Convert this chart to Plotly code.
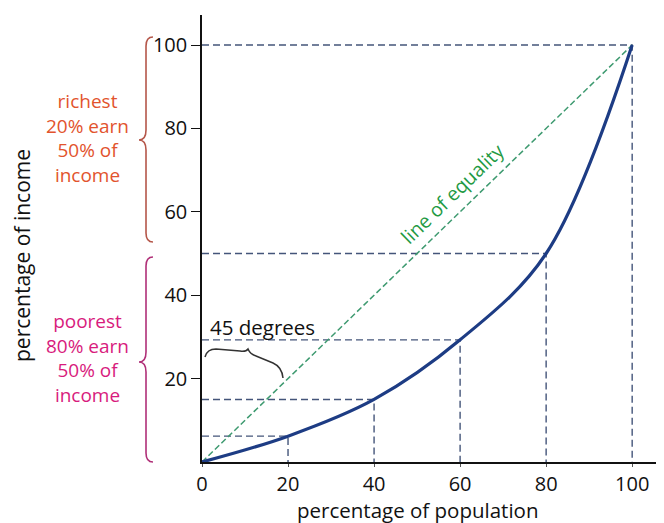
import plotly.graph_objects as go

# ---- data ----
population = [0, 20, 40, 60, 80, 100]
income = [0, 6.2, 15.0, 29.3, 50.0, 100]
equality_x = [0, 100]
equality_y = [0, 100]
tick_vals = [0, 20, 40, 60, 80, 100]
tick_text = ["0", "20", "40", "60", "80", "100"]
y_tick_vals = [20, 40, 60, 80, 100]
y_tick_text = ["20", "40", "60", "80", "100"]
rich_lines = ["richest", "20% earn", "50% of", "income"]
poor_lines = ["poorest", "80% earn", "50% of", "income"]

# the page body adds an 8px offset, so the figure is slightly smaller
OFF = 8
W, H = 664 - OFF, 523 - OFF
PLOT_L, PLOT_R, PLOT_T, PLOT_B = 202, 664, 15, 462   # in reference pixels
ML = PLOT_L - OFF
MR = 664 - PLOT_R
MT = PLOT_T - OFF
MB = (523 - OFF) - (PLOT_B - OFF)
PW = PLOT_R - PLOT_L
PH = PLOT_B - PLOT_T
XR = [0, 107.4]
YR = [0, 107.2]


def px(xp, yp):
    """reference pixel -> paper coords"""
    return (xp - PLOT_L) / PW, (PLOT_B - yp) / PH


def path_from_pixels(cmds):
    out = []
    for c in cmds:
        op = c[0]
        coords = []
        for (a, b) in c[1:]:
            u, v = px(a, b)
            coords.append(f"{u:.4f},{v:.4f}")
        out.append(op + " " + " ".join(coords))
    return " ".join(out)


fig = go.Figure()

# dashed guide lines from each point to the axes
gx, gy = [], []
for xv, yv in zip(population[1:], income[1:]):
    gx += [0, xv, xv, None]
    gy += [yv, yv, 0, None]
fig.add_trace(go.Scatter(x=gx, y=gy, mode="lines",
                         line=dict(color="#44557a", width=1.4, dash="7px,4px"),
                         hoverinfo="skip", showlegend=False))

# line of equality
fig.add_trace(go.Scatter(x=equality_x, y=equality_y, mode="lines",
                         line=dict(color="#3e9a70", width=1.5, dash="6px,3px"),
                         showlegend=False))

# Lorenz curve
fig.add_trace(go.Scatter(x=population, y=income, mode="lines",
                         line=dict(color="#1d3c84", width=3.2, shape="spline", smoothing=1.0),
                         showlegend=False))

shapes = []
red_brace = path_from_pixels([
    ("M", (153, 37)), ("Q", (146, 37), (146, 46)), ("L", (146, 130)),
    ("Q", (146, 140), (139, 140)), ("Q", (146, 140), (146, 150)),
    ("L", (146, 233)), ("Q", (146, 242), (153, 242)),
])
shapes.append(dict(type="path", xref="paper", yref="paper", path=red_brace,
                   line=dict(color="#b5574a", width=1.6)))
pink_brace = path_from_pixels([
    ("M", (153, 257)), ("Q", (146, 257), (146, 266)), ("L", (146, 352)),
    ("Q", (146, 362), (139, 362)), ("Q", (146, 362), (146, 372)),
    ("L", (146, 453)), ("Q", (146, 462), (153, 462)),
])
shapes.append(dict(type="path", xref="paper", yref="paper", path=pink_brace,
                   line=dict(color="#b03078", width=1.6)))
deg_brace = path_from_pixels([
    ("M", (205, 357)), ("Q", (207, 349), (216, 349)), ("L", (240, 351)),
    ("Q", (246, 352), (248, 349)), ("Q", (250, 354), (256, 356)),
    ("L", (273, 363)), ("Q", (282, 367), (283, 378)),
])
shapes.append(dict(type="path", xref="paper", yref="paper", path=deg_brace,
                   line=dict(color="#333333", width=1.5)))

FONT = "Open Sans"


def ann(text, xp, yp, size, color, angle=0):
    u, v = px(xp, yp)
    return dict(text=text, x=u, y=v, xref="paper", yref="paper",
                xanchor="center", yanchor="middle", showarrow=False,
                align="center", textangle=angle,
                font=dict(family=FONT, size=size, color=color))


annotations = [
    ann("<br>".join(rich_lines), 87, 138, 19, "#e2532d"),
    ann("<br>".join(poor_lines), 87, 358, 19, "#d81b7d"),
    ann("percentage of income", 22, 256, 21, "#111111", -90),
    ann("percentage of population", 418, 510, 20.5, "#111111"),
    ann("45 degrees", 262, 327, 20.5, "#111111"),
    ann("line of equality", 452, 193, 19.5, "#1f9a44", -44),
]

fig.update_layout(
    width=W, height=H,
    margin=dict(l=ML, r=MR, t=MT, b=MB, pad=0),
    paper_bgcolor="white", plot_bgcolor="white",
    shapes=shapes, annotations=annotations,
    showlegend=False,
    xaxis=dict(range=XR, tickvals=tick_vals, ticktext=tick_text,
               showgrid=False, zeroline=False, showline=True,
               linecolor="#111111", linewidth=1.5,
               ticks="outside", ticklen=3, tickcolor="#555555",
               tickfont=dict(family=FONT, size=20, color="#111111")),
    yaxis=dict(range=YR, tickvals=y_tick_vals, ticktext=y_tick_text,
               showgrid=False, zeroline=False, showline=True,
               linecolor="#111111", linewidth=1.5,
               ticks="outside", ticklen=9, tickcolor="#111111",
               tickfont=dict(family=FONT, size=20, color="#111111")),
)

fig.write_html("out.html")
